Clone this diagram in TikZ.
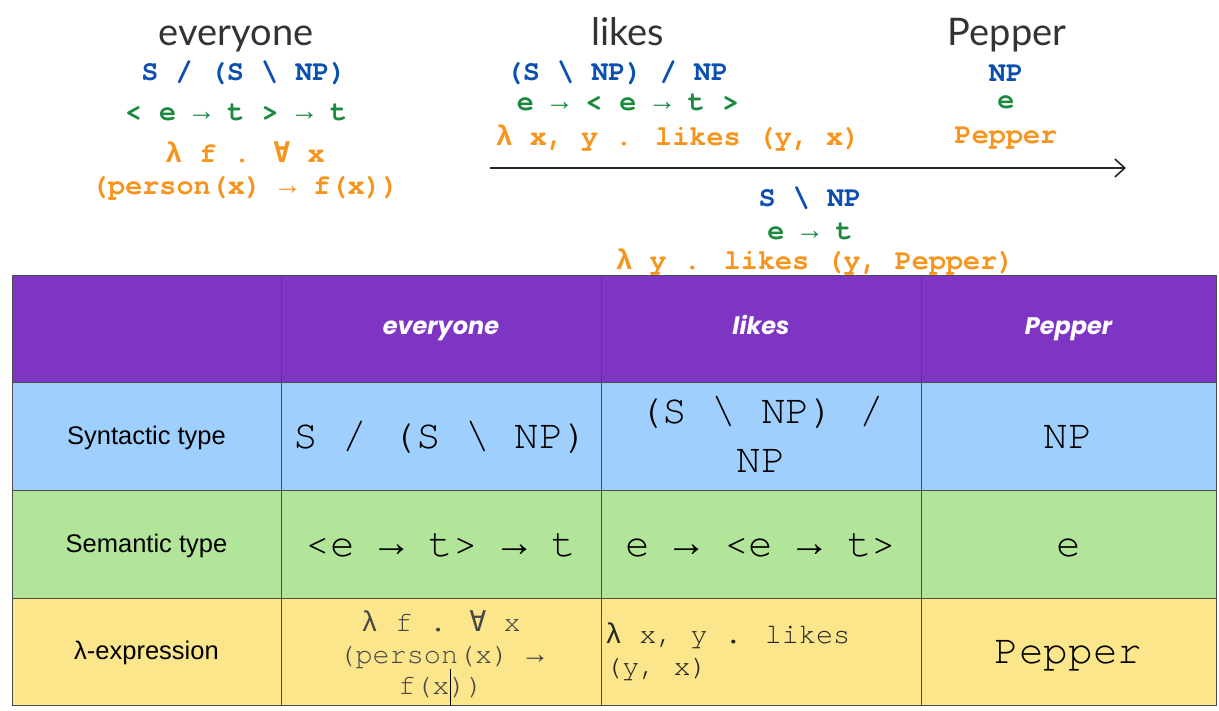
\documentclass[tikz,border=0pt]{standalone}
\usepackage{fontspec}
\setmainfont{Lato}
\newfontfamily\monofont{TeX Gyre Cursor}
\newfontfamily\fbfont{Liberation Mono}
\newfontfamily\symfont{DejaVu Sans Mono}
\newfontfamily\headfont{Poppins}
\newfontfamily\labfont{Liberation Sans}
\usetikzlibrary{arrows.meta}

\newcommand\lam{{\fbfont λ}}
\newcommand\too{{\fbfont →}}
\newcommand\fa{{\symfont ∀}}

\definecolor{synblue}{HTML}{0B4FB0}
\definecolor{semgreen}{HTML}{1B8A3F}
\definecolor{lamorange}{HTML}{F7941D}
\definecolor{headpurple}{HTML}{7F35C4}
\definecolor{rowblue}{HTML}{9FD0FD}
\definecolor{rowgreen}{HTML}{B2E59A}
\definecolor{rowyellow}{HTML}{FCE68B}
\definecolor{titlegray}{HTML}{333333}

\tikzset{
  word/.style={font=\fontsize{38}{40}\selectfont, text=titlegray, inner sep=0pt, anchor=base},
  ccg/.style={font=\monofont\bfseries\fontsize{28.5}{32}\selectfont, inner sep=0pt, align=center},
  cell/.style={draw=black!70, line width=.8pt, inner sep=0pt, align=center},
  colA/.style={minimum width=269pt}, colB/.style={minimum width=320pt},
  colC/.style={minimum width=320pt}, colD/.style={minimum width=295pt},
  headrow/.style={minimum height=107pt, fill=headpurple, text=white, text height=11.6pt, text depth=0pt,
    font=\headfont\bfseries\itshape\fontsize{24}{26}\selectfont},
  rowlab/.style={font=\labfont\fontsize{25.5}{28}\selectfont, text height=16pt, text depth=0pt},
  big/.style={font=\monofont\fontsize{41}{49}\selectfont},
  oneline/.style={text height=24pt, text depth=0pt},
  small/.style={font=\monofont\fontsize{28.5}{31.5}\selectfont}
}

\begin{document}
\begin{tikzpicture}[x=1pt,y=-1pt]
\useasboundingbox (0,0) rectangle (1219,710);

% words
\node[word] (wEvery) at (236,45) {everyone};
\node[word] (wLikes) at (628,45) {likes};
\node[word] (wPepper) at (1007,45) {Pepper};

% everyone
\node[ccg, text=synblue] (synEvery) at (244,73) {S / (S \textbackslash{} NP)};
\node[ccg, text=semgreen] (semEvery) at (236,112) {< e \too{} t > \too{} t};
\node[ccg, text=lamorange] (lamEvery) at (245,171) {\lam{} f . \fa{} x\\(person(x) \too{} f(x))};

% likes
\node[ccg, text=synblue] (synLikes) at (617,73) {(S \textbackslash{} NP) / NP};
\node[ccg, text=semgreen] (semLikes) at (628,102) {e \too{} < e \too{} t >};
\node[ccg, text=lamorange] (lamLikes) at (678,138) {\lam{} x, y . likes (y, x)};

% Pepper
\node[ccg, text=synblue] (synPepper) at (1006,73) {NP};
\node[ccg, text=semgreen] (semPepper) at (1006,102) {e};
\node[ccg, text=lamorange] (lamPepper) at (1006,138) {Pepper};

% application
\coordinate (arrS) at (490,168);
\coordinate (arrE) at (1126,168);
\draw[line width=1.6pt, black!85, -{Straight Barb[length=10pt,width=18pt,line width=1.6pt]}] (arrS) -- (arrE);
\node[ccg, text=synblue] (synVP) at (810,198) {S \textbackslash{} NP};
\node[ccg, text=semgreen] (semVP) at (810,231) {e \too{} t};
\node[ccg, text=lamorange] (lamVP) at (815,262) {\lam{} y . likes (y, Pepper)};

% table
\node[cell, colA, headrow] (h0) at (146.5,328.5) {};
\node[cell, colB, headrow] (h1) at (441,328.5) {everyone};
\node[cell, colC, headrow] (h2) at (761,328.5) {likes};
\node[cell, colD, headrow] (h3) at (1068.5,328.5) {Pepper};

\node[cell, colA, minimum height=108pt, fill=rowblue, rowlab] (syn0) at (146.5,436) {Syntactic type};
\node[cell, colB, minimum height=108pt, fill=rowblue, big, oneline] (syn1) at (441,436) {S / (S \textbackslash{} NP)};
\node[cell, colC, minimum height=108pt, fill=rowblue, big] (syn2) at (761,436) {};
\node[big, align=center, inner sep=0pt] (syn2txt) at (761,434) {(S \textbackslash{} NP) /\\NP};
\node[cell, colD, minimum height=108pt, fill=rowblue, big, oneline] (syn3) at (1068.5,436) {NP};

\node[cell, colA, minimum height=108pt, fill=rowgreen, rowlab] (sem0) at (146.5,544) {Semantic type};
\node[cell, colB, minimum height=108pt, fill=rowgreen, big, oneline] (sem1) at (441,544) {<e \too{} t> \too{} t};
\node[cell, colC, minimum height=108pt, fill=rowgreen, big, oneline] (sem2) at (761,544) {e \too{} <e \too{} t>};
\node[cell, colD, minimum height=108pt, fill=rowgreen, big, oneline] (sem3) at (1068.5,544) {e};

\node[cell, colA, minimum height=107pt, fill=rowyellow, rowlab] (lam0) at (146.5,651.5) {λ-expression};
\node[cell, colB, minimum height=107pt, fill=rowyellow] (lam1) at (441,651.5) {};
\node[small, align=center, inner sep=0pt, text=black!72] (lam1txt) at (441,654.5) {\lam{} f . \fa{} x\\(person(x) \too\\f(x))};
\node[cell, colC, minimum height=107pt, fill=rowyellow] (lam2) at (761,651.5) {};
\node[small, anchor=west, align=left, inner sep=0pt, text=black!85] (lam2txt) at (605,652) {\lam{} x, y . likes\\ (y, x)};
\node[cell, colD, minimum height=107pt, fill=rowyellow, big, oneline] (lam3) at (1068.5,651.5) {Pepper};

% cursor
\draw[line width=1pt] (450,669) -- (450,706);
\end{tikzpicture}
\end{document}
